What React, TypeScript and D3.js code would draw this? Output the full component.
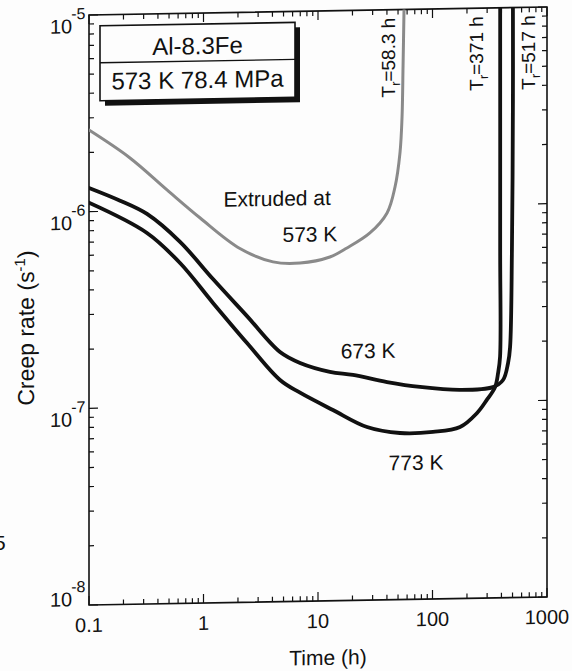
import React, { useEffect, useRef } from 'react';
import * as d3 from 'd3';

// creep curves: time (h) vs creep rate (1/s)
const time573 = [0.1, 0.228, 0.48, 0.93, 2.08, 4.05, 6.97, 12.7, 17.9, 28.4, 40.1, 47.0, 52.0, 54.2, 55.3, 56.4];
const rate573 = [2.6e-6, 1.86e-6, 1.27e-6, 9.1e-7, 6.3e-7, 5.35e-7, 5.25e-7, 5.6e-7, 6.2e-7, 7.36e-7, 9.27e-7, 1.25e-6, 1.87e-6, 2.84e-6, 5.11e-6, 1e-5];

const time673 = [0.1, 0.187, 0.321, 0.624, 1.21, 2.40, 4.66, 6.97, 12.7, 20.2, 40.1, 77.8, 174, 337, 413, 457, 476, 494, 504, 504];
const rate673 = [1.32e-6, 1.13e-6, 9.62e-7, 6.89e-7, 4.43e-7, 2.85e-7, 1.86e-7, 1.63e-7, 1.46e-7, 1.40e-7, 1.28e-7, 1.20e-7, 1.15e-7, 1.18e-7, 1.28e-7, 1.56e-7, 1.88e-7, 5.86e-7, 3.39e-6, 1e-5];

const time773 = [0.1, 0.321, 0.624, 1.21, 2.40, 4.66, 6.97, 13.5, 26.8, 52, 101, 174, 245, 299, 352, 374, 389, 390, 390];
const rate773 = [1.11e-6, 7.7e-7, 5.38e-7, 3.35e-7, 2.08e-7, 1.34e-7, 1.15e-7, 9.33e-8, 7.59e-8, 7.03e-8, 7.07e-8, 7.45e-8, 8.75e-8, 1.02e-7, 1.18e-7, 1.39e-7, 1.68e-7, 5.87e-7, 1e-5];

const xTickValues = [0.1, 1, 10, 100, 1000];
const xTickLabels = ['0.1', '1', '10', '100', '1000'];
const yExponents = [-5, -6, -7, -8];

// rupture-time labels
const ruptureTimes = [58.3, 371, 517];
const ruptureLabels = ['58.3 h', '371 h', '517 h'];
const ruptureOffsets = [-11, -15, 21];

// curve labels: text, time, rate
const curveLabelText = ['Extruded at', '573 K', '673 K', '773 K'];
const curveLabelTime = [4.4, 8.5, 27.4, 71.8];
const curveLabelRate = [1.03e-6, 6.73e-7, 1.70e-7, 4.55e-8];

const FONT = '"Liberation Sans", Arial, Helvetica, sans-serif';

const App = () => {
    const ref = useRef<SVGSVGElement | null>(null);

    useEffect(() => {
        document.body.style.margin = '0';
        const root = d3.select(ref.current);
        root.selectAll('*').remove();

        const left = 89, right = 547, top = 15, bottom = 605;
        const x = d3.scaleLog().domain([0.1, 1000]).range([left, right]);
        const y = d3.scaleLog().domain([1e-8, 1e-5]).range([bottom, top]);

        root.append('rect').attr('width', 572).attr('height', 671).attr('fill', '#fdfdfd');

        // the scan is slightly sheared
        const svg = root.append('g')
            .attr('transform', `matrix(1,-0.0175,0,1,0,${0.0175 * left})`);

        const defs = svg.append('defs');
        defs.append('clipPath').attr('id', 'plotclip')
            .append('rect')
            .attr('x', left).attr('y', top)
            .attr('width', right - left).attr('height', bottom - top);

        // ticks, inward on all four sides
        const majorLen = 9, minorLen = 5;
        const xTicks: { v: number; major: boolean }[] = [];
        for (let e = -1; e <= 3; e++) {
            for (let m = 1; m <= 9; m++) {
                const v = m * Math.pow(10, e);
                if (v > 1000) break;
                xTicks.push({ v, major: m === 1 });
            }
        }
        const yTicks: { v: number; major: boolean }[] = [];
        for (let e = -8; e <= -5; e++) {
            for (let m = 1; m <= 9; m++) {
                const v = m * Math.pow(10, e);
                if (v > 1e-5 * 1.0001) break;
                yTicks.push({ v, major: m === 1 });
            }
        }
        const ticks = svg.append('g').attr('stroke', '#111').attr('stroke-width', 1.2);
        xTicks.forEach(t => {
            const len = t.major ? majorLen : minorLen;
            ticks.append('line').attr('x1', x(t.v)).attr('x2', x(t.v)).attr('y1', bottom).attr('y2', bottom - len);
            ticks.append('line').attr('x1', x(t.v)).attr('x2', x(t.v)).attr('y1', top).attr('y2', top + len);
        });
        yTicks.forEach(t => {
            const len = t.major ? majorLen : minorLen;
            ticks.append('line').attr('y1', y(t.v)).attr('y2', y(t.v)).attr('x1', left).attr('x2', left + len);
            ticks.append('line').attr('y1', y(t.v)).attr('y2', y(t.v)).attr('x1', right).attr('x2', right - len);
        });

        svg.append('rect')
            .attr('x', left).attr('y', top)
            .attr('width', right - left).attr('height', bottom - top)
            .attr('fill', 'none').attr('stroke', '#111').attr('stroke-width', 1.6);

        // x tick labels
        xTickValues.forEach((v, i) => {
            svg.append('text')
                .attr('x', x(v)).attr('y', bottom + 27)
                .attr('text-anchor', 'middle')
                .style('font-family', FONT).style('font-size', '20px')
                .attr('fill', '#111')
                .text(xTickLabels[i]);
        });

        // y tick labels 10^n
        yExponents.forEach(e => {
            const v = Math.pow(10, e);
            const base = y(v) + (e === -8 ? 1 : 18);
            svg.append('text')
                .attr('x', 50).attr('y', base)
                .style('font-family', FONT).style('font-size', '20px')
                .attr('fill', '#111')
                .call(t => {
                    t.append('tspan').text('10');
                    t.append('tspan').attr('dy', -14).attr('dx', -1).style('font-size', '16px').text(`-${-e}`);
                });
        });

        // axis titles
        svg.append('text')
            .attr('transform', `translate(34,327) rotate(-90)`)
            .attr('text-anchor', 'middle')
            .style('font-family', FONT).style('font-size', '23px')
            .attr('fill', '#111')
            .call(t => {
                t.append('tspan').text('Creep rate (s');
                t.append('tspan').attr('dy', -9).style('font-size', '15px').text('-1');
                t.append('tspan').attr('dy', 9).text(')');
            });
        svg.append('text')
            .attr('x', 328).attr('y', 669)
            .attr('text-anchor', 'middle')
            .style('font-family', FONT).style('font-size', '21px')
            .attr('fill', '#111')
            .text('Time (h)');

        // curves
        const line = d3.line<[number, number]>()
            .x(d => x(d[0]))
            .y(d => y(d[1]))
            .curve(d3.curveCatmullRom.alpha(0.5));
        const plot = svg.append('g').attr('clip-path', 'url(#plotclip)');
        const series = [
            { t: time573, r: rate573, color: '#8a8a8a', w: 3 },
            { t: time673, r: rate673, color: '#111', w: 3.8 },
            { t: time773, r: rate773, color: '#111', w: 3.8 },
        ];
        series.forEach(s => {
            const pts = s.t.map((t, i) => [t, s.r[i]] as [number, number]);
            plot.append('path')
                .attr('d', line(pts))
                .attr('fill', 'none')
                .attr('stroke', s.color)
                .attr('stroke-width', s.w)
                .attr('stroke-linejoin', 'round')
                .attr('stroke-linecap', 'round');
        });

        // curve labels
        curveLabelText.forEach((txt, i) => {
            svg.append('text')
                .attr('x', x(curveLabelTime[i])).attr('y', y(curveLabelRate[i]))
                .attr('text-anchor', 'middle')
                .style('font-family', FONT).style('font-size', '21px')
                .attr('fill', '#111')
                .text(txt);
        });

        // rupture time labels (rotated)
        ruptureTimes.forEach((rt, i) => {
            svg.append('text')
                .attr('transform', `translate(${x(rt) + ruptureOffsets[i]},${top + 8}) rotate(-90)`)
                .attr('text-anchor', 'end')
                .style('font-family', FONT).style('font-size', '19px')
                .attr('fill', '#111')
                .call(t => {
                    t.append('tspan').text('T');
                    t.append('tspan').attr('dy', 5).style('font-size', '13px').text('r');
                    t.append('tspan').attr('dy', -5).text('=' + ruptureLabels[i]);
                });
        });

        // info box with drop shadow
        const bx = 100, by = 26, bw = 195, bh = 75;
        svg.append('rect').attr('x', bx + 5).attr('y', by + 5).attr('width', bw).attr('height', bh).attr('fill', '#111');
        svg.append('rect').attr('x', bx).attr('y', by).attr('width', bw).attr('height', bh)
            .attr('fill', '#fdfdfd').attr('stroke', '#111').attr('stroke-width', 1.6);
        svg.append('line').attr('x1', bx).attr('x2', bx + bw).attr('y1', by + 37).attr('y2', by + 37)
            .attr('stroke', '#111').attr('stroke-width', 1.4);
        svg.append('text').attr('x', bx + bw / 2).attr('y', by + 30).attr('text-anchor', 'middle')
            .style('font-family', FONT).style('font-size', '24px').attr('fill', '#111').text('Al-8.3Fe');
        svg.append('text').attr('x', bx + bw / 2).attr('y', by + 64).attr('text-anchor', 'middle')
            .style('font-family', FONT).style('font-size', '24px').attr('fill', '#111').text('573 K 78.4 MPa');

        // stray character at the page edge of the scan
        root.append('text').attr('x', -6).attr('y', 550)
            .style('font-family', FONT).style('font-size', '21px').attr('fill', '#111').text('5');
    }, []);

    return <svg ref={ref} width={572} height={671} style={{ display: 'block' }} />;
};

export default App;
